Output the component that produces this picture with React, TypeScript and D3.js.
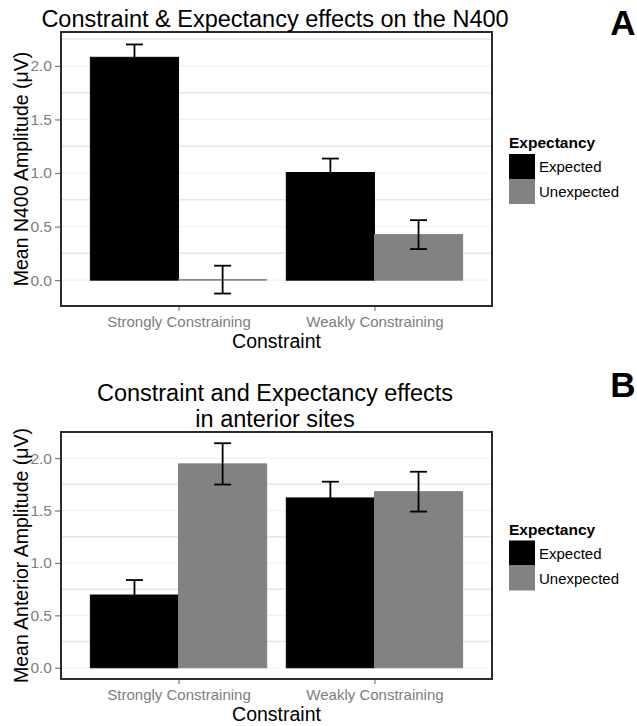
import React, { useEffect, useRef } from 'react'
import * as d3 from 'd3'

// categories and groups
const categories = ['Strongly Constraining', 'Weakly Constraining']
const groups = ['Expected', 'Unexpected']
const groupColors = ['#000000', '#828282']

// panel A: N400 means and standard errors
const n400Expected = [2.08, 1.005]
const n400ExpectedSE = [0.12, 0.13]
const n400Unexpected = [0.005, 0.425]
const n400UnexpectedSE = [0.13, 0.135]

// panel B: anterior sites
const anteriorExpected = [0.694, 1.62]
const anteriorExpectedSE = [0.143, 0.155]
const anteriorUnexpected = [1.945, 1.68]
const anteriorUnexpectedSE = [0.197, 0.19]

const yTicks = [0, 0.5, 1.0, 1.5, 2.0]
const yMinorTicks = [0.25, 0.75, 1.25, 1.75, 2.25]

const FONT = '"Liberation Sans", Arial, sans-serif'

type Panel = {
    top: number
    bottom: number
    titleLines: string[]
    titleBaselines: number[]
    yTitle: string
    letter: string
    letterY: number
    expected: number[]
    expectedSE: number[]
    unexpected: number[]
    unexpectedSE: number[]
}

const panels: Panel[] = [
    {
        top: 32, bottom: 306,
        titleLines: ['Constraint & Expectancy effects on the N400'],
        titleBaselines: [27],
        yTitle: 'Mean N400 Amplitude (μV)',
        letter: 'A', letterY: 35,
        expected: n400Expected, expectedSE: n400ExpectedSE,
        unexpected: n400Unexpected, unexpectedSE: n400UnexpectedSE,
    },
    {
        top: 432, bottom: 679,
        titleLines: ['Constraint and Expectancy effects', 'in anterior sites'],
        titleBaselines: [401, 427],
        yTitle: 'Mean Anterior Amplitude (μV)',
        letter: 'B', letterY: 397,
        expected: anteriorExpected, expectedSE: anteriorExpectedSE,
        unexpected: anteriorUnexpected, unexpectedSE: anteriorUnexpectedSE,
    },
]

const left = 61
const right = 492

function drawPanel(svg: any, p: Panel) {
    const rows = categories.flatMap((c, i) => [
        { cat: c, grp: groups[0], value: p.expected[i], se: p.expectedSE[i], color: groupColors[0] },
        { cat: c, grp: groups[1], value: p.unexpected[i], se: p.unexpectedSE[i], color: groupColors[1] },
    ])

    // ggplot style 5% expansion around data incl. zero
    const lo = Math.min(0, d3.min(rows, d => d.value - d.se) as number)
    const hi = d3.max(rows, d => d.value + d.se) as number
    const pad = (hi - lo) * 0.05
    const y = d3.scaleLinear().domain([lo - pad, hi + pad]).range([p.bottom, p.top])

    const x = d3.scalePoint().domain(categories).range([left, right]).padding(0.6)
    const step = x.step()
    const xg = d3.scaleBand().domain(groups).range([-0.45 * step, 0.45 * step])

    const g = svg.append('g')

    // grid
    g.selectAll('.minor')
        .data(yMinorTicks.filter(t => y(t) > p.top))
        .join('line')
        .attr('x1', left).attr('x2', right)
        .attr('y1', (d: number) => y(d)).attr('y2', (d: number) => y(d))
        .attr('stroke', '#e6e6e6').attr('stroke-width', 1.5)
    g.selectAll('.major')
        .data(yTicks)
        .join('line')
        .attr('x1', left).attr('x2', right)
        .attr('y1', (d: number) => y(d)).attr('y2', (d: number) => y(d))
        .attr('stroke', '#f2f2f2').attr('stroke-width', 1.2)

    // bars
    g.selectAll('.bar')
        .data(rows)
        .join('rect')
        .attr('x', (d: any) => (x(d.cat) as number) + (xg(d.grp) as number))
        .attr('width', xg.bandwidth())
        .attr('y', (d: any) => Math.min(y(d.value), y(0)))
        .attr('height', (d: any) => Math.abs(y(0) - y(d.value)))
        .attr('fill', (d: any) => d.color)
        .attr('stroke', (d: any) => d.color)
        .attr('stroke-width', 1)

    // error bars
    const capW = 17
    const eb = g.selectAll('.eb').data(rows).join('g')
    const cx = (d: any) => (x(d.cat) as number) + (xg(d.grp) as number) + xg.bandwidth() / 2
    eb.append('line')
        .attr('x1', cx).attr('x2', cx)
        .attr('y1', (d: any) => y(d.value - d.se)).attr('y2', (d: any) => y(d.value + d.se))
        .attr('stroke', '#000').attr('stroke-width', 1.8)
    eb.append('line')
        .attr('x1', (d: any) => cx(d) - capW / 2).attr('x2', (d: any) => cx(d) + capW / 2)
        .attr('y1', (d: any) => y(d.value + d.se)).attr('y2', (d: any) => y(d.value + d.se))
        .attr('stroke', '#000').attr('stroke-width', 1.8)
    eb.append('line')
        .attr('x1', (d: any) => cx(d) - capW / 2).attr('x2', (d: any) => cx(d) + capW / 2)
        .attr('y1', (d: any) => y(d.value - d.se)).attr('y2', (d: any) => y(d.value - d.se))
        .attr('stroke', '#000').attr('stroke-width', 1.8)

    // panel border
    g.append('rect')
        .attr('x', left).attr('y', p.top)
        .attr('width', right - left).attr('height', p.bottom - p.top)
        .attr('fill', 'none').attr('stroke', '#2b2b2b').attr('stroke-width', 2)

    // y axis
    const yAxis = d3.axisLeft(y).tickValues(yTicks).tickSize(5).tickPadding(3)
        .tickFormat((d: any) => d3.format('.1f')(d))
    const ya = g.append('g').attr('transform', `translate(${left - 1},0)`).call(yAxis)
    ya.select('.domain').remove()
    ya.selectAll('line').attr('stroke', '#7a7a7a').attr('stroke-width', 1.2)
    ya.selectAll('text').attr('fill', '#7d7d7d').attr('font-size', 15.5).attr('font-family', FONT)

    // x axis
    const xAxis = d3.axisBottom(x).tickSize(4).tickPadding(5)
    const xa = g.append('g').attr('transform', `translate(0,${p.bottom + 1})`).call(xAxis)
    xa.select('.domain').remove()
    xa.selectAll('line').attr('stroke', '#7a7a7a').attr('stroke-width', 1.2)
    xa.selectAll('text').attr('fill', '#7d7d7d').attr('font-size', 15).attr('font-family', FONT)

    // axis titles
    g.append('text')
        .attr('x', (left + right) / 2).attr('y', p.bottom + 42)
        .attr('text-anchor', 'middle')
        .attr('font-family', FONT).attr('font-size', 19.5).attr('fill', '#000')
        .text('Constraint')
    g.append('text')
        .attr('transform', `translate(28,${(p.top + p.bottom) / 2}) rotate(-90)`)
        .attr('text-anchor', 'middle')
        .attr('font-family', FONT).attr('font-size', 19.5).attr('fill', '#000')
        .text(p.yTitle)

    // title
    p.titleLines.forEach((line, i) => {
        g.append('text')
            .attr('x', 275).attr('y', p.titleBaselines[i])
            .attr('text-anchor', 'middle')
            .attr('font-family', FONT).attr('font-size', 23.5).attr('fill', '#000')
            .text(line)
    })

    // panel letter
    g.append('text')
        .attr('x', 623).attr('y', p.letterY)
        .attr('text-anchor', 'middle')
        .attr('font-family', FONT).attr('font-weight', 'bold').attr('font-size', 35).attr('fill', '#000')
        .text(p.letter)

    // legend
    const mid = (p.top + p.bottom) / 2
    const key = 25
    const legTop = mid - 15
    const leg = g.append('g')
    leg.append('text')
        .attr('x', 509).attr('y', legTop - 6)
        .attr('font-family', FONT).attr('font-weight', 'bold').attr('font-size', 15.5).attr('fill', '#000')
        .text('Expectancy')
    groups.forEach((gr, i) => {
        leg.append('rect')
            .attr('x', 509).attr('y', legTop + i * key)
            .attr('width', 26).attr('height', key)
            .attr('fill', groupColors[i])
        leg.append('text')
            .attr('x', 539).attr('y', legTop + i * key + key / 2)
            .attr('dominant-baseline', 'central')
            .attr('font-family', FONT).attr('font-size', 15).attr('fill', '#000')
            .text(gr)
    })
}

const App = () => {
    const ref = useRef<SVGSVGElement>(null)

    useEffect(() => {
        const svg = d3.select(ref.current)
        svg.selectAll('*').remove()
        svg.append('rect').attr('width', 637).attr('height', 726).attr('fill', '#fff')
        panels.forEach(p => drawPanel(svg, p))
    }, [])

    return (
        <svg ref={ref} width={637} height={726}
            style={{ position: 'absolute', left: 0, top: 0, background: '#fff' }} />
    )
}

export default App
